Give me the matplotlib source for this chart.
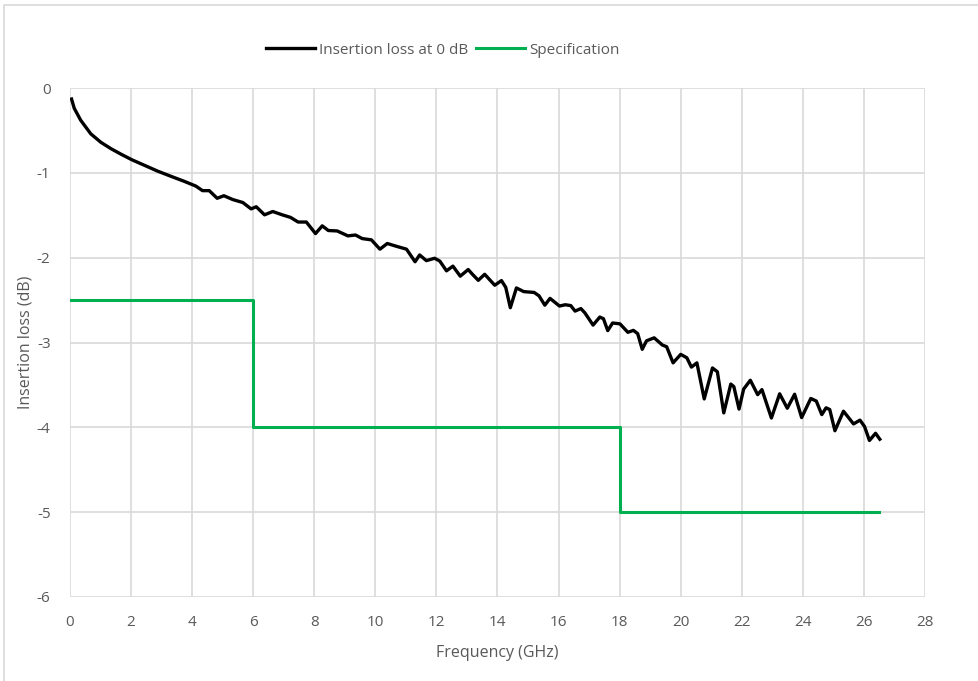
import matplotlib.pyplot as plt
from matplotlib.patches import Rectangle

freq = [0.05, 0.14, 0.35, 0.68, 1.01, 1.34, 1.67, 2.02, 2.43, 2.87, 3.30, 3.74,
        4.12, 4.34, 4.56, 4.82, 5.04, 5.33, 5.66, 5.93, 6.10, 6.37, 6.64, 6.95,
        7.22, 7.47, 7.74, 8.04, 8.26, 8.46, 8.75, 9.10, 9.35, 9.57, 9.87, 10.15,
        10.39, 10.69, 11.02, 11.30, 11.45, 11.67, 11.94, 12.11, 12.33, 12.54,
        12.78, 13.04, 13.19, 13.37, 13.58, 13.91, 14.13, 14.27, 14.42, 14.62,
        14.86, 15.20, 15.36, 15.55, 15.72, 16.03, 16.22, 16.40, 16.54, 16.73,
        16.86, 17.13, 17.35, 17.47, 17.61, 17.77, 18.01, 18.27, 18.45, 18.59,
        18.74, 18.88, 19.13, 19.40, 19.54, 19.75, 20.00, 20.20, 20.35, 20.53,
        20.77, 21.04, 21.20, 21.41, 21.64, 21.74, 21.91, 22.06, 22.28, 22.52,
        22.66, 22.97, 23.24, 23.49, 23.73, 23.96, 24.26, 24.44, 24.62, 24.76,
        24.88, 25.05, 25.33, 25.66, 25.87, 26.02, 26.18, 26.38, 26.52]
loss = [-0.13, -0.24, -0.38, -0.54, -0.64, -0.715, -0.78, -0.845, -0.91, -0.98,
        -1.04, -1.10, -1.156, -1.21, -1.21, -1.30, -1.27, -1.315, -1.35, -1.425,
        -1.40, -1.495, -1.456, -1.495, -1.525, -1.58, -1.58, -1.716, -1.625,
        -1.68, -1.685, -1.743, -1.733, -1.775, -1.79, -1.90, -1.833, -1.866,
        -1.90, -2.048, -1.968, -2.035, -2.007, -2.04, -2.155, -2.10, -2.218,
        -2.14, -2.20, -2.267, -2.196, -2.325, -2.27, -2.35, -2.59, -2.357,
        -2.40, -2.41, -2.45, -2.56, -2.48, -2.57, -2.555, -2.565, -2.63, -2.60,
        -2.65, -2.795, -2.70, -2.72, -2.86, -2.77, -2.78, -2.88, -2.857, -2.895,
        -3.08, -2.98, -2.945, -3.03, -3.05, -3.24, -3.14, -3.18, -3.29, -3.24,
        -3.665, -3.30, -3.345, -3.83, -3.49, -3.52, -3.785, -3.55, -3.445,
        -3.615, -3.555, -3.89, -3.605, -3.775, -3.61, -3.885, -3.66, -3.69,
        -3.85, -3.77, -3.79, -4.04, -3.81, -3.96, -3.915, -3.99, -4.155, -4.07,
        -4.14]

# specification mask
spec_freq = [0, 6, 6, 18, 18, 26.5]
spec_loss = [-2.5, -2.5, -4, -4, -5, -5]

txt = '#595959'
grid = '#D9D9D9'
plt.rcParams['font.family'] = ['Open Sans', 'DejaVu Sans']
plt.rcParams['axes.unicode_minus'] = False

fig = plt.figure(figsize=(9.79, 6.81), dpi=100)
fig.patches.append(Rectangle((4 / 979, -0.01), 1.0, 1 - 5 / 681 + 0.01,
                             transform=fig.transFigure, fill=False,
                             edgecolor='#D9D9D9', linewidth=1.2))
ax = fig.add_axes([70 / 979, 84 / 681, 855 / 979, 509 / 681])

ax.plot(freq, loss, color='black', linewidth=2.4, label='Insertion loss at 0 dB',
        solid_joinstyle='round')
ax.plot(spec_freq, spec_loss, color='#00B050', linewidth=2.2, label='Specification')

ax.set_xlim(0, 28)
ax.set_ylim(-6, 0)
ax.set_xticks(range(0, 29, 2))
ax.set_yticks(range(-6, 1))
ax.grid(True, color=grid, linewidth=1.2)
ax.set_axisbelow(True)
for s in ax.spines.values():
    s.set_visible(False)
ax.tick_params(length=0, labelsize=11, labelcolor=txt, pad=13)
ax.tick_params(axis='y', pad=14)
ax.set_xlabel('Frequency (GHz)', fontsize=11.5, color=txt, labelpad=11)
ax.set_ylabel('Insertion loss (dB)', fontsize=11.5, color=txt)
ax.yaxis.set_label_coords(-0.043, 0.5)

ax.legend(loc='center', bbox_to_anchor=(443 / 979, 1 - 50 / 681),
          bbox_transform=fig.transFigure, ncol=2, frameon=False,
          fontsize=11, labelcolor=txt, handlelength=3.2, handletextpad=0.3,
          columnspacing=0.5)

plt.savefig('out.png', dpi=100)
